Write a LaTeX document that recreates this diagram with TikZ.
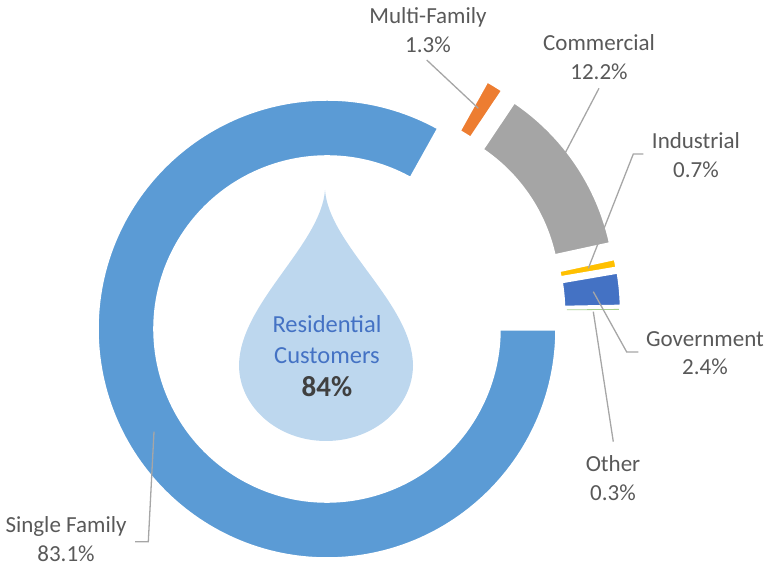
\documentclass[tikz,border=0pt]{standalone}
\usepackage{fontspec}
\setmainfont{Carlito}
\definecolor{sfblue}{HTML}{5B9BD5}
\definecolor{mforange}{HTML}{ED7D31}
\definecolor{comgray}{HTML}{A5A5A5}
\definecolor{indyellow}{HTML}{FFC000}
\definecolor{govblue}{HTML}{4472C4}
\definecolor{othgreen}{HTML}{A9D18E}
\definecolor{dropblue}{HTML}{BDD7EE}
\definecolor{restext}{HTML}{4472C4}
\definecolor{pcttext}{HTML}{404040}
\definecolor{lblgray}{HTML}{595959}
\definecolor{leadgray}{HTML}{A6A6A6}
\begin{document}
\begin{tikzpicture}[x=1pt,y=1pt,
  lbl/.style={font=\fontsize{23}{28.5}\selectfont, text=lblgray, align=center, inner sep=0pt},
  leader/.style={draw=leadgray, line width=1.3pt},
  piece/.style={draw=white, line width=3.5pt},
  ring/.style 2 args={insert path={(#1:172) arc[start angle=#1, end angle=#2, radius=172] -- (#2:230) arc[start angle=#2, end angle=#1, radius=230] -- cycle}}]
\useasboundingbox (0,0) rectangle (767,567);
% donut pieces
\begin{scope}[shift={(327,238)}]
  \path[piece, fill=sfblue, ring={60.84}{360}];
\end{scope}
\begin{scope}[shift={(375,285.5)}]
  \path[piece, fill=mforange, ring={56.16}{60.84}];
\end{scope}
\begin{scope}[shift={(386,274.5)}]
  \path[piece, fill=comgray, ring={12.24}{56.16}];
\end{scope}
\begin{scope}[shift={(390.5,260)}]
  \path[piece, fill=indyellow, ring={9.72}{12.24}];
\end{scope}
\begin{scope}[shift={(391.5,256.3)}]
  \path[piece, fill=govblue, ring={1.08}{9.72}];
\end{scope}
\begin{scope}[shift={(391,255.5)}]
  \draw[othgreen, line width=0.8pt] (0.54:176) -- (0.54:228);
\end{scope}
% drop
\path[fill=dropblue] (325,377) .. controls (329,322) and (412,264) .. (413,202)
  .. controls (413,160) and (374,126) .. (326,126)
  .. controls (278,126) and (239,160) .. (239,202)
  .. controls (240,264) and (321,322) .. (325,377) -- cycle;
\node[align=center, inner sep=0pt, font=\fontsize{24.5}{31}\selectfont] (res) at (327,211)
  {\textcolor{restext}{Residential}\\\textcolor{restext}{Customers}\\[2pt]{\color{pcttext}\fontsize{29}{31}\selectfont\bfseries 84\%}};
% labels
\node[lbl] (mf) at (428,537) {Multi-Family\\1.3\%};
\node[lbl] (com) at (599,510) {Commercial\\12.2\%};
\node[lbl] (ind) at (696,412) {Industrial\\0.7\%};
\node[lbl] (gov) at (705,214) {Government\\2.4\%};
\node[lbl] (oth) at (613,89) {Other\\0.3\%};
\node[lbl] (sf) at (66,28) {Single Family\\83.1\%};
% leader coordinates
\coordinate (mfa) at (426.7,507);
\coordinate (mfb) at (478.3,458.7);
\coordinate (coma) at (599,478.7);
\coordinate (comb) at (565,413.7);
\coordinate (inda) at (643.3,413);
\coordinate (indk) at (633.3,413);
\coordinate (indb) at (588.3,298.7);
\coordinate (gova) at (638.3,215);
\coordinate (govk) at (626.7,215);
\coordinate (govb) at (593.3,275.3);
\coordinate (otha) at (613.3,125.3);
\coordinate (othb) at (593.3,255.3);
\coordinate (sfa) at (135,25.3);
\coordinate (sfk) at (148.3,25.3);
\coordinate (sfb) at (154,135.3);
\draw[leader] (mfa) -- (mfb);
\draw[leader] (coma) -- (comb);
\draw[leader] (inda) -- (indk) -- (indb);
\draw[leader] (gova) -- (govk) -- (govb);
\draw[leader] (otha) -- (othb);
\draw[leader] (sfa) -- (sfk) -- (sfb);
\end{tikzpicture}
\end{document}
